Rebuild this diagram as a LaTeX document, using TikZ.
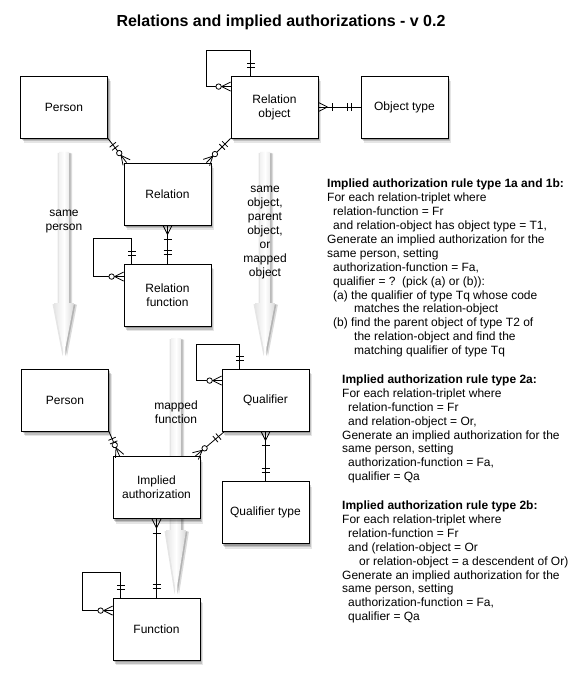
\documentclass[tikz,border=0pt]{standalone}
\usepackage{fontspec}
\setmainfont{Liberation Sans}
\usetikzlibrary{shadows,decorations.markings}

\def\indA{\hspace*{6pt}}
\def\indB{\hspace*{27pt}}

\tikzset{
  softshadow/.style={
    drop shadow={shadow xshift=1pt, shadow yshift=-2pt, fill=black, opacity=.2},
    drop shadow={shadow xshift=2pt, shadow yshift=-3.5pt, fill=black, opacity=.16},
    drop shadow={shadow xshift=3pt, shadow yshift=-5pt, fill=black, opacity=.1}},
  entity/.style={draw, fill=white, line width=.8pt, minimum width=87pt, minimum height=62pt,
    align=center, font=\fontsize{12}{14}\selectfont, softshadow},
  rel/.style={draw, line width=.8pt},
  lbl/.style={align=center, font=\fontsize{12}{14}\selectfont, inner sep=0pt},
  ruletext/.style={align=left, anchor=north west, inner sep=0pt, font=\fontsize{12}{13.9}\selectfont},
  fatarrow/.style={left color=gray!20, right color=gray!30, middle color=white,
    drop shadow={shadow xshift=1.5pt, shadow yshift=-1pt, fill=black, opacity=.18},
    drop shadow={shadow xshift=3pt, shadow yshift=-1.5pt, fill=black, opacity=.14},
    drop shadow={shadow xshift=-1.5pt, shadow yshift=-1pt, fill=black, opacity=.1}},
  startone/.style={postaction={decorate, decoration={markings,
    mark=at position 8pt with {\draw[line width=.8pt] (0,-4pt) -- (0,4pt);},
    mark=at position 12pt with {\draw[line width=.8pt] (0,-4pt) -- (0,4pt);}}}},
  endone/.style={postaction={decorate, decoration={markings,
    mark=at position -9pt with {\draw[line width=.8pt] (0,-4pt) -- (0,4pt);},
    mark=at position -13pt with {\draw[line width=.8pt] (0,-4pt) -- (0,4pt);}}}},
  startmany/.style={postaction={decorate, decoration={markings,
    mark=at position 9pt with {\draw[line width=.8pt] (0,0) -- (-9pt,4.5pt) (0,0) -- (-9pt,-4.5pt);},
    mark=at position 14pt with {\draw[line width=.8pt] (0,-4pt) -- (0,4pt);}}}},
  endmany/.style={postaction={decorate, decoration={markings,
    mark=at position -9pt with {\draw[line width=.8pt] (0,0) -- (9pt,4.5pt) (0,0) -- (9pt,-4.5pt);},
    mark=at position -12pt with {\draw[line width=.8pt, fill=white] (0,0) circle (2.7pt);}}}}
}

\begin{document}
\begin{tikzpicture}[x=1pt, y=-1pt]
\path[use as bounding box, fill=white] (0,0) rectangle (584,684);

\node[font=\bfseries\fontsize{16}{19}\selectfont] (title) at (281,22) {Relations and implied authorizations - v 0.2};

% fat arrows
\foreach \x/\ya/\yb/\yc in {64/152/303/355, 265/152/303/355, 176/338/530/593}
  \path[fatarrow] (\x-5,\ya) -- (\x+5,\ya) -- (\x+5,\yb) -- (\x+10,\yb) -- (\x,\yc) -- (\x-10,\yb) -- (\x-5,\yb) -- cycle;

\node[lbl] (sameperson) at (64,222) {same\\person};
\node[lbl] (sameobject) at (265,233) {same\\object,\\parent\\object,\\or\\mapped\\object};
\node[lbl] (mappedfn) at (176,412) {mapped\\function};

\node[entity] (p1) at (64,107) {Person};
\node[entity] (ro) at (274.5,107) {Relation\\object};
\node[entity] (ot) at (404.5,107) {Object type};
\node[entity] (rel) at (167.5,194) {Relation};
\node[entity] (rf) at (167.5,295) {Relation\\function};
\node[entity] (p2) at (65,400) {Person};
\node[entity] (q) at (265.5,400) {Qualifier};
\node[entity] (ia) at (156.5,487.5) {Implied\\authorization};
\node[entity] (qt) at (265.5,512.5) {Qualifier type};
\node[entity] (f) at (156.5,629) {Function};

\draw[rel, startone, endmany] (p1.south east) -- ([xshift=3pt]rel.north west);
\draw[rel, startone, endmany] (ro.south west) -- ([xshift=-5pt]rel.north east);
\draw[rel, startmany, endone] (ro.east) -- (ot.west);
\draw[rel, startone, endmany] ([xshift=20pt]ro.north west) -- ++(0,-25) -| ++(-44,36) -- ([yshift=-11pt]ro.north west);
\draw[rel, startmany, endone] (rel.south) -- (rf.north);
\draw[rel, startone, endmany] ([xshift=8pt]rf.north west) -- ++(0,-25) -| ++(-38,38) -- ([yshift=-13pt]rf.north west);
\draw[rel, startone, endmany] (p2.south east) -- ([xshift=7pt]ia.north west);
\draw[rel, startone, endmany] ([xshift=3pt]q.south west) -- ([xshift=-5pt]ia.north east);
\draw[rel, startmany, endone] (q.south) -- (qt.north);
\draw[rel, startone, endmany] ([xshift=18pt]q.north west) -- ++(0,-24) -| ++(-43,36) -- ([yshift=-12pt]q.north west);
\draw[rel, startmany, endone] (ia.south) -- (f.north);
\draw[rel, startone, endmany] ([xshift=8pt]f.north west) -- ++(0,-25) -| ++(-38,38) -- ([yshift=-13pt]f.north west);

% rules
\node[ruletext] (rule1) at (327,179) {\textbf{Implied authorization rule type 1a and 1b:}\\
For each relation-triplet where\\
\indA relation-function = Fr\\
\indA and relation-object has object type = T1,\\
Generate an implied authorization for the\\
same person, setting\\
\indA authorization-function = Fa,\\
\indA qualifier = ?\ \ (pick (a) or (b)):\\
\indA (a) the qualifier of type Tq whose code\\
\indB matches the relation-object\\
\indA (b) find the parent object of type T2 of\\
\indB the relation-object and find the\\
\indB matching qualifier of type Tq};

\node[ruletext] (rule2) at (342,374.6) {\textbf{Implied authorization rule type 2a:}\\
For each relation-triplet where\\
\indA relation-function = Fr\\
\indA and relation-object = Or,\\
Generate an implied authorization for the\\
same person, setting\\
\indA authorization-function = Fa,\\
\indA qualifier = Qa};

\node[ruletext] (rule3) at (342,500.6) {\textbf{Implied authorization rule type 2b:}\\
For each relation-triplet where\\
\indA relation-function = Fr\\
\indA and (relation-object = Or\\
\hspace*{17pt}or relation-object = a descendent of Or)\\
Generate an implied authorization for the\\
same person, setting\\
\indA authorization-function = Fa,\\
\indA qualifier = Qa};
\end{tikzpicture}
\end{document}
